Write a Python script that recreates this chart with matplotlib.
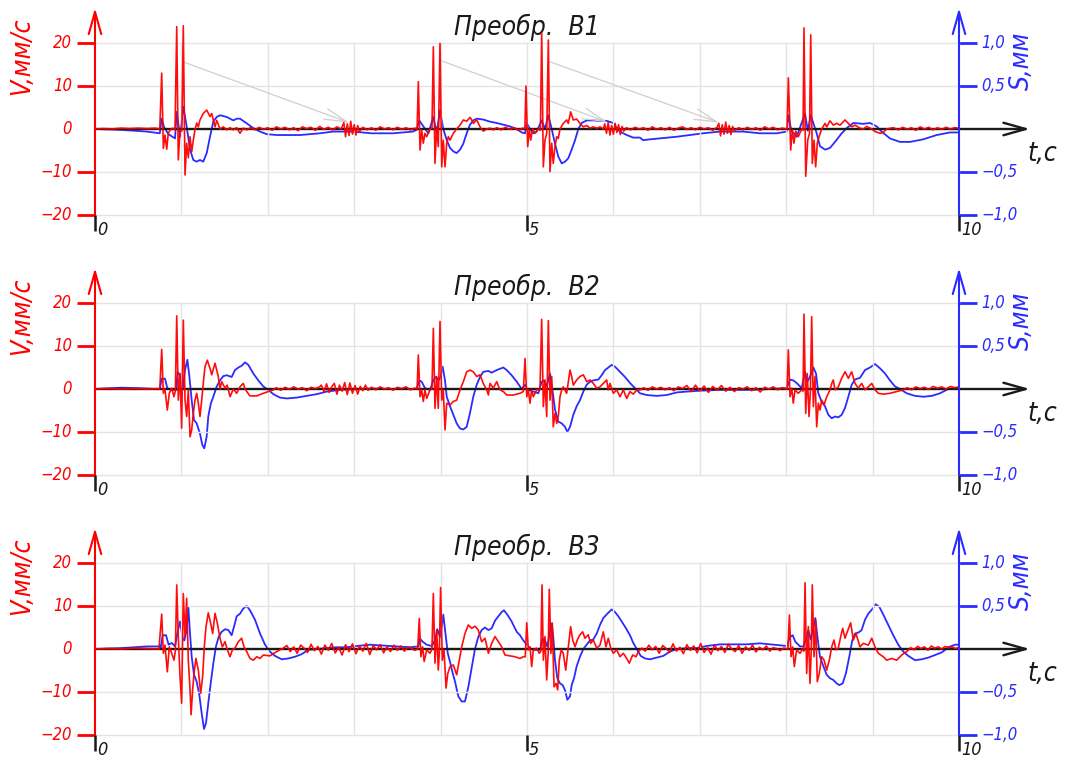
import numpy as np
import matplotlib
matplotlib.use("Agg")
import matplotlib.pyplot as plt

# ---------------- data: (t [s], V [mm/s]) and (t [s], S [mm]) ----------------
RED1 = [
    (0.00, 0.0), (0.10, 0.1), (0.20, 0.0), (0.30, 0.2), (0.40, 0.1), (0.50, 0.2), (0.60, 0.1), (0.70, 0.2), (0.75, 0.0),
    (0.772, 13.0), (0.791, -4.5), (0.810, -1.4), (0.830, -4.7), (0.848, -1.0), (0.868, -0.3), (0.900, 0.2), (0.926, -0.2),
    (0.946, 23.8), (0.964, -7.2), (0.984, -0.3), (1.005, -0.5), (1.022, 24.0), (1.042, -10.7), (1.061, -3.3), (1.080, -6.7),
    (1.100, -1.8), (1.119, -5.3), (1.138, -2.6), (1.157, -0.2), (1.177, 1.4), (1.196, 0.5), (1.215, 2.1), (1.253, 3.6),
    (1.293, 4.4), (1.331, 2.9), (1.351, 3.6), (1.369, 2.1), (1.389, 0.5), (1.409, 2.0), (1.447, 0.0), (1.485, 0.5),
    (1.524, -0.2), (1.563, 0.3), (1.601, -0.2), (1.640, 0.3), (1.678, -1.0), (1.716, 0.2), (1.756, -0.2),
    (1.80, 0.3), (1.85, -0.2), (1.90, 0.4), (1.95, -0.1), (2.00, 0.3), (2.05, -0.3), (2.10, 0.5), (2.15, 0.0), (2.20, 0.4),
    (2.25, -0.2), (2.30, 0.3), (2.35, -0.4), (2.40, 0.5), (2.45, 0.1), (2.50, 0.4), (2.55, -0.3), (2.60, 0.6), (2.65, -0.1),
    (2.70, 0.4), (2.75, -0.2), (2.80, 0.5), (2.85, 0.0),
    (2.88, 1.5), (2.90, -1.8), (2.92, 1.2), (2.94, -1.5), (2.96, 1.8), (2.98, -1.2), (3.00, 1.0), (3.02, -1.4), (3.04, 0.8), (3.06, -0.6),
    (3.10, 0.4), (3.15, -0.2), (3.20, 0.3), (3.25, -0.3), (3.30, 0.5), (3.35, 0.0), (3.40, 0.3), (3.45, -0.2), (3.50, 0.4),
    (3.55, -0.1), (3.60, 0.3), (3.65, -0.2), (3.70, 0.2), (3.728, 0.0),
    (3.742, 11.0), (3.762, -4.9), (3.781, -0.2), (3.800, -3.3), (3.819, -1.0), (3.839, -1.8), (3.877, 0.0), (3.900, 0.2),
    (3.916, 19.1), (3.935, -8.0), (3.955, 0.5), (3.973, -4.1), (3.993, 19.9), (4.013, -8.8), (4.031, -2.6), (4.051, -8.8),
    (4.071, -3.3), (4.089, -1.8), (4.109, -2.6), (4.147, -1.0), (4.186, 0.0), (4.225, 0.9), (4.263, 2.1), (4.302, 1.8),
    (4.340, 2.7), (4.360, 2.1), (4.378, 1.3), (4.418, 2.1), (4.456, 0.5), (4.494, -0.5), (4.534, 0.0), (4.572, 0.2), (4.610, -0.2),
    (4.65, 0.3), (4.70, -0.2), (4.75, 0.4), (4.80, -0.1), (4.85, 0.3), (4.90, -0.3), (4.95, 0.2), (4.975, 0.0),
    (4.988, 10.0), (5.008, -4.1), (5.027, 0.0), (5.043, -2.6), (5.066, 0.0), (5.093, -1.0), (5.131, 0.0), (5.155, -0.3),
    (5.170, 22.3), (5.189, -8.8), (5.208, -2.6), (5.228, -1.0), (5.247, 20.7), (5.266, -9.9), (5.286, -3.3), (5.304, -8.0),
    (5.324, -4.1), (5.344, -1.8), (5.362, -2.2), (5.382, 0.0), (5.420, 1.3), (5.459, 2.1), (5.478, 1.3), (5.505, 4.0),
    (5.536, 2.1), (5.575, 2.3), (5.613, 1.3), (5.652, 0.5), (5.691, 0.8), (5.729, 0.2), (5.767, 0.5), (5.807, 0.2),
    (5.845, 0.5), (5.883, 0.0),
    (5.90, 1.2), (5.92, -1.0), (5.94, 1.5), (5.96, -1.4), (5.98, 0.8), (6.00, -1.2), (6.02, 1.3), (6.04, -0.8), (6.06, 1.0),
    (6.08, -1.3), (6.10, 0.6), (6.12, -0.5),
    (6.15, 0.3), (6.20, -0.2), (6.25, 0.4), (6.30, 0.0), (6.35, 0.3), (6.40, -0.3), (6.45, 0.5), (6.50, -0.1), (6.55, 0.3),
    (6.60, -0.2), (6.65, 0.4), (6.70, -0.3), (6.75, 0.2), (6.80, 0.5), (6.85, -0.1), (6.90, 0.3), (6.95, -0.2), (7.00, 0.4),
    (7.05, 0.0), (7.10, 0.3), (7.15, -0.3), (7.20, 0.4),
    (7.22, 1.3), (7.24, -1.6), (7.26, 1.0), (7.28, -1.2), (7.30, 1.6), (7.32, -1.0), (7.34, 0.8), (7.36, -1.3), (7.38, 0.6), (7.40, -0.4),
    (7.45, 0.3), (7.50, -0.2), (7.55, 0.4), (7.60, -0.1), (7.65, 0.3), (7.70, -0.3), (7.75, 0.5), (7.80, 0.0), (7.85, 0.4),
    (7.90, -0.2), (7.95, 0.2), (8.010, 0.0),
    (8.025, 11.9), (8.052, -4.9), (8.071, -0.2), (8.090, -3.3), (8.110, -0.5), (8.140, -1.8), (8.179, 0.0), (8.195, -0.3),
    (8.206, 23.5), (8.226, -11.0), (8.249, -2.6), (8.270, -1.0), (8.284, 21.9), (8.302, -8.0), (8.322, -2.6), (8.341, -8.8),
    (8.360, -3.3), (8.380, -1.8), (8.411, 0.0), (8.449, 1.3), (8.469, 0.5), (8.507, 1.9), (8.545, 0.9), (8.584, 1.3),
    (8.623, 0.9), (8.681, 2.1), (8.719, 1.3), (8.758, 0.5), (8.796, 0.9), (8.854, 0.2), (8.892, 0.0), (8.932, 0.6),
    (8.990, 0.0), (9.028, -0.6), (9.086, -1.0), (9.124, -0.8), (9.163, 0.0), (9.239, 0.3),
    (9.30, -0.2), (9.35, 0.4), (9.40, -0.1), (9.45, 0.3), (9.50, -0.3), (9.55, 0.5), (9.60, 0.0), (9.65, 0.4), (9.70, -0.2),
    (9.75, 0.3), (9.80, -0.1), (9.85, 0.4), (9.90, 0.0), (9.95, 0.3), (10.00, 0.2),
]

BLUE1 = [
    (0.0, 0.0), (0.3, -0.01), (0.6, -0.03), (0.75, -0.05), (0.772, 0.12), (0.80, 0.02), (0.85, -0.06), (0.926, -0.11),
    (0.946, 0.2), (0.984, -0.09), (1.022, 0.26), (1.061, 0.03), (1.10, -0.24), (1.138, -0.36), (1.177, -0.38), (1.215, -0.36),
    (1.253, -0.38), (1.293, -0.28), (1.331, -0.09), (1.369, 0.085), (1.409, 0.14), (1.447, 0.16), (1.524, 0.14), (1.601, 0.1),
    (1.64, 0.12), (1.678, 0.12), (1.756, 0.066), (1.832, 0.01), (1.91, -0.03), (1.987, -0.06), (2.103, -0.07), (2.373, -0.07),
    (2.604, -0.05), (2.755, -0.03), (2.986, -0.03), (3.2, -0.05), (3.45, -0.05), (3.68, -0.03), (3.723, -0.01), (3.753, 0.1),
    (3.80, 0.03), (3.858, -0.05), (3.916, 0.14), (3.955, -0.05), (3.993, 0.22), (4.031, 0.0), (4.071, -0.13), (4.109, -0.22),
    (4.147, -0.26), (4.186, -0.28), (4.225, -0.24), (4.263, -0.17), (4.302, -0.05), (4.34, 0.05), (4.378, 0.1), (4.418, 0.12),
    (4.494, 0.11), (4.572, 0.085), (4.649, 0.07), (4.726, 0.05), (4.803, 0.03), (4.881, 0.0), (4.939, -0.04), (4.977, -0.05),
    (4.997, 0.07), (5.035, 0.0), (5.073, -0.05), (5.112, -0.03), (5.17, 0.1), (5.208, 0.0), (5.247, 0.16), (5.286, 0.0),
    (5.324, -0.17), (5.362, -0.32), (5.402, -0.4), (5.44, -0.38), (5.478, -0.34), (5.517, -0.24), (5.556, -0.13), (5.594, 0.0),
    (5.633, 0.07), (5.691, 0.1), (5.767, 0.1), (5.845, 0.095), (5.922, 0.095), (5.999, 0.07), (6.038, 0.01), (6.076, -0.03),
    (6.154, -0.07), (6.23, -0.1), (6.308, -0.1), (6.343, -0.13), (6.424, -0.12), (6.733, -0.09), (7.037, -0.05), (7.234, -0.03),
    (7.5, -0.03), (7.697, -0.05), (7.89, -0.05), (8.006, -0.03), (8.025, 0.16), (8.06, -0.02), (8.121, -0.09), (8.218, 0.18),
    (8.25, -0.02), (8.284, 0.16), (8.353, -0.05), (8.391, -0.2), (8.449, -0.24), (8.507, -0.22), (8.565, -0.15), (8.642, -0.05),
    (8.70, 0.01), (8.777, 0.07), (8.892, 0.06), (8.97, 0.07), (9.047, 0.03), (9.105, -0.03), (9.201, -0.11), (9.317, -0.15),
    (9.433, -0.15), (9.586, -0.12), (9.742, -0.07), (9.896, -0.04), (10.0, -0.04),
]

RED2 = [
    (0.00, 0.0), (0.15, 0.1), (0.30, 0.0), (0.45, 0.1), (0.60, 0.0), (0.75, 0.1),
    (0.772, 9.2), (0.791, -1.0), (0.810, 0.0), (0.837, -4.9), (0.860, -1.0), (0.888, 0.2), (0.914, -1.8), (0.930, -0.5),
    (0.946, 17.0), (0.964, -2.6), (0.984, 3.6), (1.003, -9.1), (1.022, 16.0), (1.042, -2.6), (1.061, -6.4), (1.080, -0.2),
    (1.100, -11.1), (1.119, -9.5), (1.138, -5.7), (1.157, -2.6), (1.177, -1.0), (1.196, -3.3), (1.215, -6.4), (1.235, -2.6),
    (1.253, 1.3), (1.273, 5.2), (1.300, 6.7), (1.331, 4.8), (1.351, 3.3), (1.389, 6.0), (1.427, 2.9), (1.447, 0.0),
    (1.466, 1.7), (1.505, 0.2), (1.530, 0.9), (1.563, -1.8), (1.601, 0.0), (1.640, -1.0), (1.678, 0.5), (1.716, 1.3),
    (1.737, 0.0), (1.756, -0.6), (1.794, -1.6), (1.872, -1.6), (1.948, -1.0), (2.006, -0.6), (2.064, -0.2),
    (2.10, 0.3), (2.15, -0.3), (2.20, 0.4), (2.25, -0.1), (2.30, 0.5), (2.35, 0.0), (2.40, 0.3), (2.45, -0.4), (2.50, 0.4),
    (2.55, 0.1), (2.60, 0.5),
    (2.62, 0.9), (2.65, -0.6), (2.68, 1.2), (2.71, -0.8), (2.74, 0.5), (2.77, 1.3), (2.80, -1.2), (2.83, 0.9), (2.86, -0.5),
    (2.89, 1.5), (2.92, -1.3), (2.95, 1.4), (2.98, -1.0), (3.01, 0.8), (3.04, -1.2), (3.07, 0.6), (3.10, -0.4), (3.13, 0.9),
    (3.16, -0.3),
    (3.20, 0.4), (3.25, -0.2), (3.30, 0.5), (3.35, 0.0), (3.40, 0.3), (3.45, -0.3), (3.50, 0.4), (3.55, 0.1), (3.60, 0.5),
    (3.65, -0.2), (3.70, 0.2),
    (3.728, 0.0), (3.742, 7.9), (3.762, -1.8), (3.781, -0.2), (3.800, -2.9), (3.819, -0.2), (3.839, -2.2), (3.877, -0.2),
    (3.900, 0.0), (3.916, 14.1), (3.935, -4.5), (3.955, 2.9), (3.973, -4.5), (3.993, 15.7), (4.013, -2.6), (4.031, -0.2),
    (4.051, -9.5), (4.071, -3.3), (4.109, -3.7), (4.147, -2.9), (4.186, -2.6), (4.225, -0.2), (4.263, 1.7), (4.302, 4.0),
    (4.340, 4.4), (4.378, 4.0), (4.418, 2.9), (4.456, 3.3), (4.494, 1.3), (4.534, -0.2), (4.553, -1.4), (4.572, 1.3),
    (4.610, 0.2), (4.649, 1.7), (4.688, -0.2), (4.726, -0.6), (4.765, -1.4), (4.841, -1.4), (4.919, -1.0), (4.957, -0.6),
    (4.977, 7.1), (4.997, -1.8), (5.015, -0.2), (5.035, -3.3), (5.054, -0.2), (5.073, -1.8), (5.112, -0.2), (5.150, -0.2),
    (5.170, 16.2), (5.189, -4.1), (5.208, 2.1), (5.228, -6.4), (5.247, 15.9), (5.266, -2.6), (5.286, 2.9), (5.304, -8.8),
    (5.324, -5.7), (5.344, -8.0), (5.362, -6.4), (5.382, -1.8), (5.402, -0.2), (5.420, 0.5), (5.459, -1.0), (5.498, 4.4),
    (5.517, 2.9), (5.536, 0.9), (5.575, 2.1), (5.613, 2.9), (5.652, 3.3), (5.691, 1.7), (5.729, 2.1), (5.767, 1.3),
    (5.807, 0.2), (5.845, 0.5), (5.883, 1.3), (5.922, 2.1), (5.941, -0.2), (5.961, 1.3), (5.999, -1.0), (6.038, -0.2),
    (6.076, -1.8), (6.115, -0.2), (6.154, -2.2), (6.192, -0.6), (6.230, -1.2), (6.270, -0.2), (6.308, -0.2),
    (6.35, 0.3), (6.40, -0.3), (6.45, 0.5), (6.50, 0.0), (6.55, 0.4), (6.60, -0.2), (6.65, 0.3), (6.70, -0.4), (6.75, 0.5),
    (6.80, 0.1), (6.85, 0.8), (6.90, -0.6), (6.95, 0.9), (7.00, -0.5), (7.05, 0.7), (7.10, -0.8), (7.15, 0.6), (7.20, -0.3),
    (7.25, 0.8), (7.30, -0.5), (7.35, 0.4), (7.40, -0.6), (7.45, 0.3), (7.50, 0.0), (7.55, 0.5), (7.60, -0.4), (7.65, 0.3),
    (7.70, -0.7), (7.75, 0.4), (7.80, 0.0), (7.85, 0.5), (7.90, -0.2), (7.95, 0.3),
    (8.010, 0.0), (8.025, 9.1), (8.044, -1.8), (8.064, 0.2), (8.082, -3.3), (8.102, -0.2), (8.140, -1.0), (8.179, -0.2),
    (8.195, -0.5), (8.206, 17.4), (8.226, -5.7), (8.244, 3.6), (8.264, -6.4), (8.280, -0.5), (8.295, 16.8), (8.314, -4.1),
    (8.333, 2.9), (8.353, -8.8), (8.372, -3.3), (8.391, -4.9), (8.411, -2.6), (8.438, -3.7), (8.469, -1.8), (8.507, -0.2),
    (8.527, 1.3), (8.545, 2.1), (8.565, -0.2), (8.603, 0.5), (8.642, 2.5), (8.681, 4.0), (8.719, 2.5), (8.758, 4.0),
    (8.796, 1.3), (8.834, 0.2), (8.873, 1.3), (8.912, -0.2), (8.950, 0.5), (8.990, 1.3), (9.028, -0.2), (9.066, -1.0),
    (9.124, -1.2), (9.201, -1.0), (9.279, -0.6), (9.355, -0.2),
    (9.40, 0.3), (9.45, -0.2), (9.50, 0.5), (9.55, 0.1), (9.60, 0.4), (9.65, -0.1), (9.70, 0.6), (9.75, 0.2), (9.80, 0.5),
    (9.85, 0.0), (9.90, 0.6), (9.95, 0.3), (10.00, 0.5),
]

BLUE2 = [
    (0.0, 0.0), (0.3, 0.015), (0.5, 0.01), (0.7, 0.0), (0.75, 0.0), (0.772, 0.12), (0.81, 0.12), (0.837, 0.01), (0.888, -0.01),
    (0.94, -0.01), (0.955, 0.2), (0.984, 0.16), (1.015, 0.0), (1.042, 0.22), (1.069, 0.34), (1.092, 0.15), (1.119, -0.13),
    (1.146, -0.36), (1.177, -0.4), (1.215, -0.52), (1.242, -0.65), (1.265, -0.69), (1.293, -0.55), (1.311, -0.32),
    (1.34, -0.17), (1.369, -0.09), (1.409, 0.03), (1.447, 0.1), (1.485, 0.15), (1.524, 0.16), (1.582, 0.14), (1.62, 0.22),
    (1.66, 0.25), (1.697, 0.27), (1.737, 0.31), (1.775, 0.28), (1.832, 0.18), (1.89, 0.1), (1.948, 0.03), (2.006, -0.01),
    (2.064, -0.06), (2.141, -0.1), (2.219, -0.11), (2.334, -0.1), (2.45, -0.08), (2.566, -0.06), (2.682, -0.03),
    (2.836, -0.01), (3.029, 0.0), (3.221, 0.005), (3.414, 0.0), (3.608, 0.0), (3.723, 0.0), (3.753, 0.1), (3.781, 0.085),
    (3.819, 0.01), (3.877, -0.01), (3.916, 0.1), (3.946, 0.14), (3.973, 0.1), (4.0, 0.14), (4.024, 0.26), (4.051, 0.1),
    (4.071, -0.09), (4.109, -0.2), (4.147, -0.3), (4.186, -0.4), (4.225, -0.46), (4.263, -0.47), (4.302, -0.44),
    (4.34, -0.28), (4.378, -0.09), (4.418, 0.05), (4.456, 0.14), (4.494, 0.2), (4.553, 0.21), (4.591, 0.19), (4.649, 0.22),
    (4.726, 0.25), (4.765, 0.22), (4.822, 0.16), (4.881, 0.085), (4.939, 0.0), (4.977, 0.05), (5.015, -0.01), (5.073, -0.03),
    (5.131, -0.05), (5.17, 0.085), (5.197, 0.1), (5.228, 0.03), (5.266, 0.18), (5.293, 0.0), (5.324, -0.24), (5.362, -0.38),
    (5.402, -0.4), (5.44, -0.44), (5.467, -0.5), (5.498, -0.44), (5.536, -0.3), (5.575, -0.2), (5.613, -0.13), (5.652, -0.03),
    (5.691, 0.05), (5.729, 0.085), (5.767, 0.1), (5.826, 0.11), (5.864, 0.16), (5.903, 0.22), (5.941, 0.25), (5.98, 0.28),
    (6.018, 0.26), (6.076, 0.2), (6.134, 0.14), (6.192, 0.07), (6.25, 0.01), (6.308, -0.05), (6.385, -0.07), (6.501, -0.08),
    (6.617, -0.07), (6.733, -0.04), (6.848, -0.03), (7.002, -0.02), (7.234, -0.01), (7.427, -0.01), (7.619, -0.01),
    (7.813, 0.0), (8.006, 0.01), (8.044, 0.11), (8.082, 0.1), (8.121, 0.07), (8.179, 0.01), (8.218, 0.2), (8.244, 0.085),
    (8.275, 0.14), (8.314, 0.25), (8.345, 0.18), (8.372, -0.05), (8.411, -0.15), (8.449, -0.2), (8.487, -0.3), (8.527, -0.34),
    (8.565, -0.32), (8.603, -0.33), (8.642, -0.3), (8.681, -0.22), (8.719, -0.09), (8.758, 0.05), (8.796, 0.11), (8.854, 0.13),
    (8.912, 0.22), (8.97, 0.25), (9.028, 0.29), (9.086, 0.24), (9.144, 0.18), (9.201, 0.1), (9.259, 0.03), (9.317, 0.0),
    (9.395, -0.05), (9.491, -0.08), (9.586, -0.09), (9.684, -0.08), (9.78, -0.05), (9.876, 0.0), (9.973, 0.01), (10.0, 0.01),
]

RED3 = [
    (0.00, 0.0), (0.15, 0.1), (0.30, 0.0), (0.45, 0.2), (0.60, 0.1), (0.74, 0.0),
    (0.772, 8.1), (0.791, -1.0), (0.810, 0.9), (0.837, -5.3), (0.860, 0.5), (0.888, -1.0), (0.914, -2.6), (0.930, -0.5),
    (0.946, 14.9), (0.964, 2.9), (0.984, -6.4), (1.003, -12.6), (1.022, 12.9), (1.042, 2.9), (1.061, 11.8), (1.080, -2.6),
    (1.100, -9.5), (1.112, -15.3), (1.130, -9.5), (1.146, -5.7), (1.168, -2.2), (1.196, -4.9), (1.223, -10.3), (1.246, -6.4),
    (1.265, 0.5), (1.285, 5.2), (1.311, 8.4), (1.339, 6.0), (1.362, 3.6), (1.389, 8.3), (1.416, 6.0), (1.447, 2.5),
    (1.474, 0.5), (1.505, 1.7), (1.532, -0.2), (1.563, -1.8), (1.590, -0.2), (1.620, 0.2), (1.659, 1.7), (1.697, 2.5),
    (1.725, 0.5), (1.756, -0.6), (1.794, -2.2), (1.832, -2.6), (1.872, -1.8), (1.910, -2.2), (1.948, -1.4), (2.025, -1.6),
    (2.103, -0.6), (2.179, 0.2),
    (2.22, 0.8), (2.26, -0.6), (2.30, 0.5), (2.34, -1.0), (2.38, 0.9), (2.42, 0.2), (2.46, -0.8), (2.50, 1.1), (2.54, -0.4),
    (2.58, 0.6), (2.62, -1.2), (2.66, 0.9), (2.70, -0.3), (2.74, 1.3), (2.78, -0.9), (2.82, 0.4), (2.86, -1.4), (2.90, 1.0),
    (2.94, -0.6), (2.98, 1.2), (3.02, -1.1), (3.06, 0.7), (3.10, -0.5), (3.14, 1.3), (3.18, -1.3), (3.22, 0.8), (3.26, -0.2),
    (3.30, 1.0), (3.34, -0.9), (3.38, 0.5), (3.42, -0.6), (3.46, 0.9), (3.50, -0.3), (3.54, 0.7), (3.58, -0.5), (3.62, 0.4),
    (3.66, 0.2), (3.70, -0.3),
    (3.735, 0.0), (3.753, 7.1), (3.772, -1.8), (3.792, 0.5), (3.810, -2.9), (3.839, -0.2), (3.877, -1.0), (3.900, 0.0),
    (3.916, 12.9), (3.935, -3.3), (3.955, 4.4), (3.973, -4.9), (3.985, -1.0), (4.000, 14.3), (4.020, -2.6), (4.040, -0.2),
    (4.063, -9.1), (4.083, -5.7), (4.109, -4.1), (4.147, -3.7), (4.186, -6.0), (4.217, -2.6), (4.244, 0.5), (4.282, 3.6),
    (4.321, 5.6), (4.360, 4.8), (4.398, 5.3), (4.436, 4.4), (4.475, 1.7), (4.514, 2.5), (4.553, -1.0), (4.591, 1.3),
    (4.630, 2.9), (4.668, 1.7), (4.707, 0.5), (4.745, -1.4), (4.803, -1.6), (4.861, -1.8), (4.919, -2.2), (4.957, -1.8),
    (4.980, -1.8),
    (4.997, 6.1), (5.015, -0.2), (5.035, 0.5), (5.054, -4.1), (5.073, -0.2), (5.112, 0.2), (5.142, -1.0), (5.160, -0.5),
    (5.174, 14.9), (5.189, -2.6), (5.208, 2.9), (5.228, -7.2), (5.245, -1.0), (5.258, 13.9), (5.277, -1.0), (5.293, 6.0),
    (5.313, -8.8), (5.336, -8.0), (5.355, -9.5), (5.374, -2.6), (5.397, -0.2), (5.420, -1.0), (5.448, -4.9), (5.478, 0.5),
    (5.505, 5.2), (5.529, 2.1), (5.556, 0.5), (5.582, 2.1), (5.613, 3.3), (5.644, 4.0), (5.671, 2.5), (5.709, 3.3),
    (5.737, 1.3), (5.767, 2.1), (5.807, 0.2), (5.845, 0.9), (5.883, 4.0), (5.914, 0.5), (5.941, 2.5), (5.969, 0.2),
    (5.999, -1.0), (6.038, -0.2), (6.076, -1.8), (6.115, -1.0), (6.154, -2.2), (6.184, -3.3), (6.223, -1.4), (6.262, -1.8),
    (6.289, -0.6), (6.328, 0.2),
    (6.37, -0.5), (6.41, 0.9), (6.45, -0.2), (6.49, 0.6), (6.53, -1.0), (6.57, 0.8), (6.61, 0.1), (6.65, -0.7), (6.69, 1.2),
    (6.73, -0.5), (6.77, 0.4), (6.81, -1.1), (6.85, 1.0), (6.89, -0.3), (6.93, 0.7), (6.97, -0.9), (7.01, 1.3), (7.05, -0.8),
    (7.09, 0.3), (7.13, -1.2), (7.17, 0.9), (7.21, -0.4), (7.25, 0.6), (7.29, -0.8), (7.33, 1.1), (7.37, 0.0), (7.41, -0.6),
    (7.45, 0.8), (7.49, -1.0), (7.53, 0.5), (7.57, -0.3), (7.61, 0.9), (7.65, -0.7), (7.69, 0.4), (7.73, -0.2), (7.77, 0.7),
    (7.81, -0.5), (7.85, 0.3), (7.89, 0.1), (7.93, -0.4), (7.97, 0.2),
    (8.020, 0.0), (8.037, 7.9), (8.056, -1.8), (8.075, 0.5), (8.094, -4.1), (8.121, -0.2), (8.160, -1.0), (8.190, 0.0),
    (8.205, -0.5), (8.218, 15.4), (8.237, -5.7), (8.256, 5.2), (8.275, -8.0), (8.290, -0.5), (8.302, 14.9), (8.322, -1.8),
    (8.341, 6.7), (8.360, -7.6), (8.383, -5.7), (8.411, -1.8), (8.438, -2.6), (8.469, -4.9), (8.499, -2.6), (8.527, 0.5),
    (8.553, 2.1), (8.576, -0.2), (8.603, 0.2), (8.631, 2.9), (8.654, 4.8), (8.681, 2.5), (8.707, 4.0), (8.746, 6.1),
    (8.777, 2.1), (8.808, 3.6), (8.854, 0.5), (8.892, 1.3), (8.950, 0.9), (8.990, 2.5), (9.028, 0.5), (9.066, -1.0),
    (9.124, -1.8), (9.163, -2.6), (9.221, -2.2), (9.279, -2.6), (9.337, -1.4), (9.395, -0.6),
    (9.44, 0.3), (9.48, -0.2), (9.52, 0.6), (9.56, 0.1), (9.60, 0.5), (9.64, -0.3), (9.68, 0.7), (9.72, 0.2), (9.76, 0.5),
    (9.80, 0.0), (9.84, 0.6), (9.88, 0.3), (9.92, 0.5), (9.96, 0.1), (10.00, 0.4),
]

BLUE3 = [
    (0.0, 0.0), (0.3, 0.01), (0.6, 0.03), (0.75, 0.03), (0.76, 0.01), (0.783, 0.16), (0.822, 0.16), (0.852, 0.05),
    (0.888, 0.07), (0.926, 0.03), (0.953, 0.18), (0.984, 0.32), (1.015, 0.12), (1.034, 0.1), (1.061, 0.22), (1.08, 0.49),
    (1.10, 0.18), (1.119, -0.09), (1.146, -0.3), (1.177, -0.38), (1.207, -0.53), (1.235, -0.75), (1.262, -0.93),
    (1.285, -0.86), (1.311, -0.63), (1.339, -0.4), (1.369, -0.17), (1.4, 0.03), (1.431, 0.14), (1.466, 0.2), (1.505, 0.23),
    (1.543, 0.22), (1.582, 0.16), (1.609, 0.26), (1.64, 0.38), (1.678, 0.41), (1.716, 0.47), (1.756, 0.5), (1.794, 0.45),
    (1.852, 0.34), (1.91, 0.18), (1.968, 0.05), (2.025, -0.03), (2.083, -0.08), (2.161, -0.12), (2.237, -0.11),
    (2.315, -0.09), (2.392, -0.06), (2.469, -0.01), (2.566, 0.0), (2.682, 0.01), (2.798, 0.02), (2.913, 0.02), (3.029, 0.035),
    (3.183, 0.05), (3.337, 0.04), (3.491, 0.03), (3.646, 0.02), (3.742, 0.03), (3.762, 0.12), (3.792, 0.085), (3.839, 0.05),
    (3.897, 0.035), (3.935, 0.1), (3.962, 0.23), (3.993, 0.14), (4.013, 0.26), (4.031, 0.4), (4.059, 0.16), (4.083, -0.05),
    (4.109, -0.15), (4.14, -0.28), (4.167, -0.38), (4.205, -0.55), (4.244, -0.61), (4.282, -0.61), (4.321, -0.44),
    (4.36, -0.22), (4.398, 0.0), (4.436, 0.14), (4.475, 0.22), (4.514, 0.25), (4.553, 0.22), (4.591, 0.24), (4.63, 0.33),
    (4.668, 0.38), (4.707, 0.43), (4.733, 0.45), (4.772, 0.4), (4.822, 0.32), (4.881, 0.2), (4.919, 0.16), (4.957, 0.1),
    (4.997, 0.05), (5.035, 0.01), (5.073, -0.01), (5.15, -0.01), (5.181, 0.12), (5.208, 0.1), (5.235, 0.03), (5.266, 0.2),
    (5.286, 0.3), (5.304, 0.14), (5.324, -0.13), (5.351, -0.34), (5.382, -0.4), (5.413, -0.42), (5.44, -0.48),
    (5.467, -0.59), (5.498, -0.55), (5.517, -0.42), (5.544, -0.34), (5.575, -0.2), (5.613, -0.09), (5.652, 0.0),
    (5.691, 0.05), (5.729, 0.1), (5.767, 0.11), (5.807, 0.18), (5.845, 0.28), (5.883, 0.36), (5.93, 0.41), (5.98, 0.46),
    (6.018, 0.43), (6.057, 0.38), (6.096, 0.32), (6.146, 0.24), (6.192, 0.16), (6.23, 0.07), (6.27, 0.0), (6.316, -0.08),
    (6.366, -0.11), (6.424, -0.12), (6.501, -0.1), (6.578, -0.08), (6.655, -0.03), (6.733, 0.0), (6.848, 0.01),
    (6.964, 0.01), (7.079, 0.035), (7.234, 0.054), (7.388, 0.054), (7.542, 0.054), (7.697, 0.066), (7.851, 0.05),
    (8.006, 0.035), (8.044, 0.14), (8.075, 0.16), (8.105, 0.085), (8.16, 0.03), (8.198, 0.03), (8.229, 0.12), (8.256, 0.22),
    (8.284, 0.11), (8.314, 0.24), (8.337, 0.36), (8.364, 0.12), (8.391, -0.09), (8.43, -0.2), (8.469, -0.3), (8.507, -0.34),
    (8.545, -0.36), (8.584, -0.4), (8.615, -0.42), (8.654, -0.4), (8.692, -0.28), (8.73, -0.09), (8.765, 0.1), (8.796, 0.18),
    (8.834, 0.19), (8.873, 0.22), (8.912, 0.34), (8.95, 0.41), (9.001, 0.47), (9.037, 0.52), (9.078, 0.49), (9.124, 0.4),
    (9.182, 0.28), (9.239, 0.16), (9.297, 0.05), (9.355, -0.03), (9.413, -0.08), (9.491, -0.13), (9.568, -0.12),
    (9.645, -0.1), (9.722, -0.07), (9.8, -0.04), (9.876, 0.02), (9.954, 0.05), (10.0, 0.05),
]

# thin grey pointers in the first panel: (t_from, V_from, t_to, V_to)
POINTERS1 = [(1.02, 15.6, 2.94, 1.5), (3.99, 16.0, 5.93, 1.6), (5.27, 15.6, 7.22, 1.5)]

TITLES = ["Преобр.  В1", "Преобр.  В2", "Преобр.  В3"]
V_TICKS = [20, 10, 0, -10, -20]
V_TICK_LABELS = ["20", "10", "0", "−10", "−20"]
S_TICKS = [1.0, 0.5, -0.5, -1.0]
S_TICK_LABELS = ["1,0", "0,5", "−0,5", "−1,0"]
T_MARKS = [0, 5, 10]
T_MARK_LABELS = ["0", "5", "10"]
GRID_T = [1, 2, 3, 4, 5, 6, 7, 8, 9]
GRID_V = [20, 10, -10, -20]
V_LIM, S_LIM, T_END = 20, 1.0, 10

# ---------------- layout (pixel geometry of the figure) ----------------
W, H = 1066, 762
PX_T = 86.4          # pixels per second
PX_V = 4.3           # pixels per mm/s
X0 = 95              # pixel column of t = 0
ZEROS = [129, 389, 649]
UP, DOWN = 125, 111  # pixel extent of each panel above / below its zero line

RED = "#ff0000"
BLUE = "#2b2bff"
INK = "#1a1a1a"
GRID = "#e4e4e4"

plt.rcParams["font.family"] = ["DejaVu Sans"]
FONT = dict(family="DejaVu Sans", style="italic", stretch="condensed")

fig = plt.figure(figsize=(W / 100, H / 100), dpi=100)


def dt(px):
    return px / PX_T


def dv(px):
    return px / PX_V


for k, zero in enumerate(ZEROS):
    ax = fig.add_axes([0, 1 - (zero + DOWN) / H, 1, (UP + DOWN) / H])
    ax.set_xlim(-dt(X0), dt(W - X0))
    ax.set_ylim(-dv(DOWN), dv(UP))
    ax.set_axis_off()
    ax2 = ax.twinx()
    ax2.set_ylim(np.array(ax.get_ylim()) * S_LIM / V_LIM)
    ax2.set_axis_off()

    top = dv(121)

    # grid
    for v in GRID_V:
        ax.plot([0, T_END], [v, v], color=GRID, lw=1.0, zorder=0)
    for t in GRID_T:
        ax.plot([t, t], [-V_LIM, V_LIM], color=GRID, lw=1.0, zorder=0)

    red = np.array([RED1, RED2, RED3][k]).T
    blue = np.array([BLUE1, BLUE2, BLUE3][k]).T
    ax2.plot(blue[0], blue[1], color=BLUE, lw=1.3, zorder=2)
    ax.set_zorder(ax2.get_zorder() + 1)
    ax.patch.set_visible(False)

    # time axis
    ax.annotate("", xy=(dt(1030 - X0), 0), xytext=(0, 0), annotation_clip=False,
                arrowprops=dict(arrowstyle="->,head_length=1.6,head_width=0.45", color=INK, lw=1.7,
                                shrinkA=0, shrinkB=0), zorder=3)
    ax.plot(red[0], red[1], color=RED, lw=1.2, zorder=4, alpha=0.95)

    # V axis (left, red)
    ax.annotate("", xy=(0, top), xytext=(0, -V_LIM), annotation_clip=False,
                arrowprops=dict(arrowstyle="->,head_length=1.6,head_width=0.45", color=RED, lw=1.5,
                                shrinkA=0, shrinkB=0), zorder=5)
    for v, lab in zip(V_TICKS, V_TICK_LABELS):
        if v != 0:
            ax.plot([-dt(18), 0], [v, v], color=RED, lw=2.0, solid_capstyle="butt", zorder=5)
        ax.text(-dt(23), v, lab, color=RED, fontsize=12, ha="right", va="center", **FONT)
    ax.text(-dt(73), dv(73), "V,мм/с", color=RED, fontsize=19, rotation=90,
            ha="center", va="center", **FONT)

    # S axis (right, blue)
    ax.annotate("", xy=(T_END, top), xytext=(T_END, -V_LIM), annotation_clip=False,
                arrowprops=dict(arrowstyle="->,head_length=1.6,head_width=0.45", color=BLUE, lw=1.5,
                                shrinkA=0, shrinkB=0), zorder=5)
    for s, lab in zip(S_TICKS, S_TICK_LABELS):
        ax2.plot([T_END, T_END + dt(18)], [s, s], color=BLUE, lw=2.0, solid_capstyle="butt", zorder=5)
        ax2.text(T_END + dt(22), s, lab, color=BLUE, fontsize=12, ha="left", va="center", **FONT)
    ax.text(T_END + dt(63), dv(68), "S,мм", color=BLUE, fontsize=19, rotation=90,
            ha="center", va="center", **FONT)

    # time marks
    for t, lab in zip(T_MARKS, T_MARK_LABELS):
        ax.plot([t, t], [-V_LIM, -dv(102)], color=INK, lw=1.8, solid_capstyle="butt", zorder=5)
        ax.text(t + dt(2), -dv(101), lab, color=INK, fontsize=13, ha="left", va="center", **FONT)
    ax.text(T_END + dt(68), -dv(25), "t,с", color=INK, fontsize=19, ha="left", va="center", **FONT)

    # title
    ax.text(T_END / 2, dv(102), TITLES[k], color=INK, fontsize=19, ha="center", va="center", **FONT)

    if k == 0:
        for t0, v0, t1, v1 in POINTERS1:
            ax.annotate("", xy=(t1, v1), xytext=(t0, v0), annotation_clip=False,
                        arrowprops=dict(arrowstyle="->,head_length=1.6,head_width=0.4", color="#cfcfcf",
                                        lw=0.9, shrinkA=0, shrinkB=0), zorder=1)

fig.savefig("out.png", dpi=100)
